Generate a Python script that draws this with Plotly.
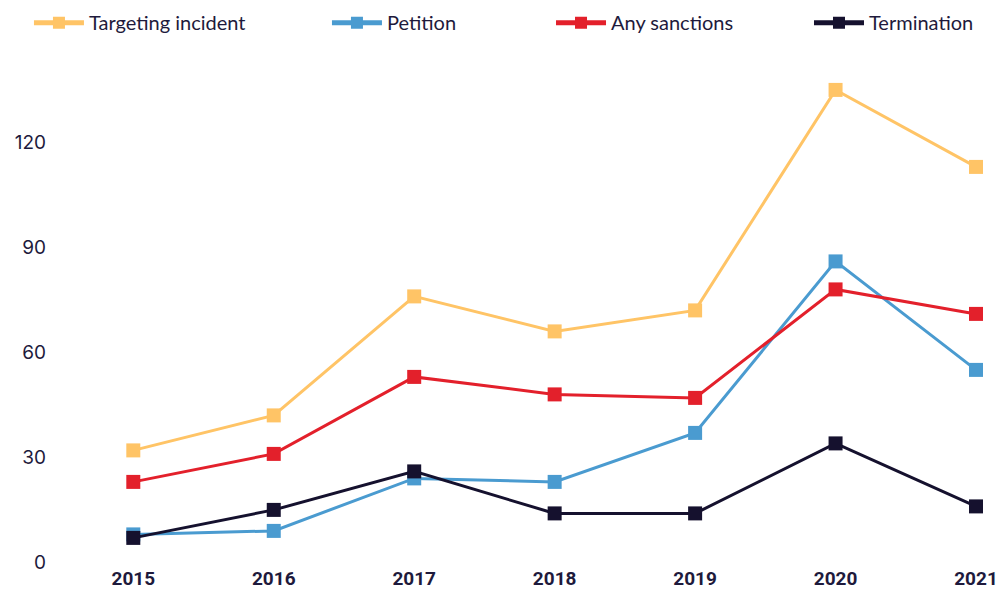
import plotly.graph_objects as go

years = [2015, 2016, 2017, 2018, 2019, 2020, 2021]
targeting = [32, 42, 76, 66, 72, 135, 113]
petition = [8, 9, 24, 23, 37, 86, 55]
sanctions = [23, 31, 53, 48, 47, 78, 71]
termination = [7, 15, 26, 14, 14, 34, 16]

series = [
    ("Targeting incident", targeting, "#FFC466", "legend", 0.021),
    ("Petition", petition, "#4A9BD0", "legend2", 0.3196),
    ("Any sanctions", sanctions, "#E3202B", "legend3", 0.5441),
    ("Termination", termination, "#15112E", "legend4", 0.8026),
]

fig = go.Figure()
for name, vals, color, lg, _ in series:
    fig.add_trace(go.Scatter(
        x=years, y=vals, name=name, mode="lines+markers",
        line=dict(color=color, width=3),
        marker=dict(symbol="square", size=14, color=color),
        cliponaxis=False, legend=lg,
    ))

text_color = "#1E1A3C"
layout_legends = {}
for name, vals, color, lg, xpos in series:
    layout_legends[lg] = dict(
        x=xpos, y=1.033, xref="container", yref="paper",
        xanchor="left", yanchor="middle", orientation="h",
        font=dict(family="Lato", size=20, color=text_color),
        bgcolor="rgba(0,0,0,0)", itemwidth=50, itemsizing="constant",
    )

fig.update_layout(
    width=998, height=584,
    margin=dict(l=55, r=0, t=32, b=27, autoexpand=False),
    plot_bgcolor="white", paper_bgcolor="white",
    showlegend=True,
    **layout_legends,
    xaxis=dict(
        range=[2014.4995, 2021.2135], tickvals=years,
        ticktext=[str(y) for y in years],
        showgrid=False, zeroline=False, showline=False,
        tickfont=dict(family="Roboto", size=19, color=text_color, weight=700),
        ticklabelstandoff=0,
    ),
    yaxis=dict(
        range=[-0.743, 149.26], tickvals=[0, 30, 60, 90, 120],
        showgrid=False, zeroline=False, showline=False,
        tickfont=dict(family="Inter", size=19, color=text_color),
        ticklabelstandoff=16,
    ),
)

fig.write_html("out.html")
